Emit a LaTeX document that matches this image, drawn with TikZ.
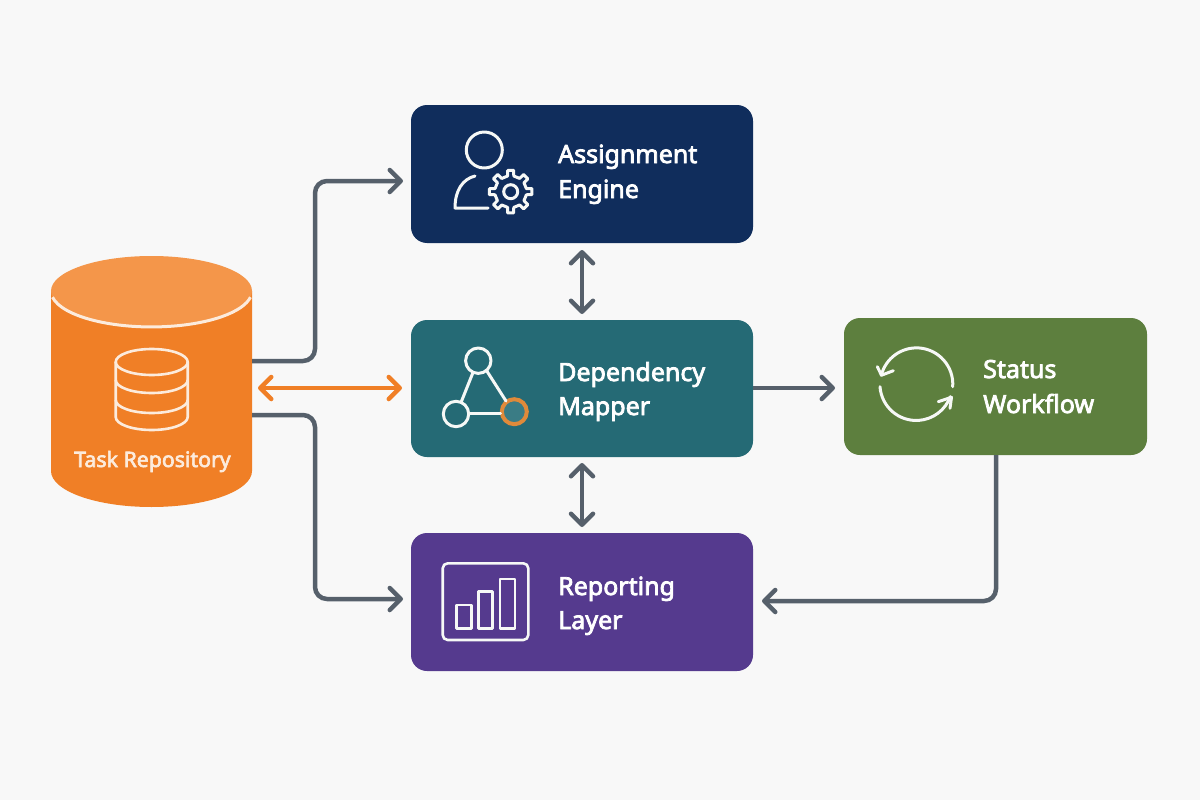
\documentclass[tikz,border=0pt]{standalone}
\usepackage{fontspec}
\setmainfont{Noto Sans}[FakeBold=3]
\usetikzlibrary{arrows.meta,calc}
\definecolor{bgc}{HTML}{F8F8F8}
\definecolor{navy}{HTML}{102D5C}
\definecolor{tealb}{HTML}{256A75}
\definecolor{tealc}{HTML}{3A7C85}
\definecolor{purp}{HTML}{553A8E}
\definecolor{grn}{HTML}{5D7F3E}
\definecolor{orng}{HTML}{F07F26}
\definecolor{orntop}{HTML}{F4964A}
\definecolor{ornring}{HTML}{E08A3A}
\definecolor{linec}{HTML}{56606B}
\definecolor{cream}{HTML}{FCEBDC}
\definecolor{iconw}{HTML}{F6F8F6}
\tikzset{
  box/.style={rounded corners=16pt,inner sep=0pt,outer sep=0pt,minimum width=342pt,minimum height=138pt},
  lab/.style={anchor=base west,inner sep=0pt,text=white,font=\fontsize{25}{30}\selectfont},
  conn/.style={draw=linec,line width=4.5pt,rounded corners=12pt,-{Straight Barb[length=11pt,width=22pt,round]}},
  conn2/.style={line width=4.5pt,{Straight Barb[length=11pt,width=22pt,round]}-{Straight Barb[length=11pt,width=22pt,round]}},
  icon/.style={draw=iconw,line width=3pt,line join=round,line cap=round},
}
\begin{document}
\begin{tikzpicture}[x=1pt,y=-1pt]
\useasboundingbox (0,0) rectangle (1200,800);
\fill[bgc] (0,0) rectangle (1200,800);
% cylinder
\node[inner sep=0pt,outer sep=0pt,minimum width=201pt,minimum height=251pt] (repo) at (151.5,381.5) {};
\fill[orng] (51,291) -- (51,471) arc[start angle=180,end angle=0,x radius=100.5,y radius=36] -- (252,291) -- cycle;
\fill[orntop] (151.5,291) ellipse[x radius=100.5,y radius=35];
\draw[draw=cream,line width=3pt] (52.5,297.2) arc[start angle=170,end angle=10,x radius=100.5,y radius=36];
% db icon
\begin{scope}[line width=2.6pt]
\draw[cream] (151.7,362) ellipse[x radius=36,y radius=13];
\draw[cream] (115.7,362) -- (115.7,417) arc[start angle=180,end angle=0,x radius=36,y radius=13] -- (187.7,362);
\draw[cream] (115.7,380) arc[start angle=180,end angle=0,x radius=36,y radius=13];
\draw[cream] (115.7,400) arc[start angle=180,end angle=0,x radius=36,y radius=13];
\end{scope}
\node[inner sep=0pt,text=cream,font=\fontsize{21.3}{25}\selectfont,anchor=base] (repolab) at (152.5,467) {Task Repository};
% boxes
\node[box,fill=navy] (assign) at (582,174) {};
\node[box,fill=tealb,minimum height=137pt] (dep) at (582,388.5) {};
\node[box,fill=purp] (report) at (582,602) {};
\node[box,fill=grn,minimum width=303pt,minimum height=137pt] (status) at (995.5,386.5) {};
% labels
\node[lab] (t1) at (558,163) {Assignment};
\node[lab] (t2) at (558,198) {Engine};
\node[lab] (t3) at (558,381) {Dependency};
\node[lab] (t4) at (558,415) {Mapper};
\node[lab] (t5) at (558,595) {Reporting};
\node[lab] (t6) at (558,629) {Layer};
\node[lab] (t7) at (983,378) {Status};
\node[lab] (t8) at (983,413) {Workflow};
% assignment icon
\draw[icon] (484.3,150) circle[radius=18];
\draw[icon] (475,176) .. controls (463,179) and (455,190) .. (455,208) -- (488,208);
\draw[icon] (510.7,191.7) circle[radius=7];
\begin{scope}[shift={(510.7,191.7)}]
\draw[icon] (-11:16) \foreach \a in {0,45,...,315}{
  -- (\a-11:16) -- (\a-8:21.5) -- (\a+8:21.5) -- (\a+11:16)
} -- cycle;
\end{scope}
% dependency icon
\draw[icon] (478.3,360.7) circle[radius=12.7];
\draw[icon] (456,414) circle[radius=12.7];
\fill[tealc] (514.3,411.7) circle[radius=12];
\draw[draw=ornring,line width=4pt] (514.3,411.7) circle[radius=12.5];
\draw[icon] (473,372.5) -- (461,402.5);
\draw[icon] (486.5,370.5) -- (506,401);
\draw[icon] (469.5,413) -- (500.5,413);
% status icon
\draw[icon] (952.7,386.7) arc[start angle=4,end angle=-166,radius=36.3];
\draw[icon] (877.3,366.7) -- (881.5,375.2) -- (893.3,370.7);
\draw[icon] (880,386.7) arc[start angle=176,end angle=20,radius=36.3];
\draw[icon] (938.3,401.7) -- (951.5,397.3) -- (950,408.3);
% chart icon
\draw[icon,line width=2.6pt,rounded corners=5pt] (442.7,563.3) rectangle (528.3,640);
\draw[icon,line width=2.6pt] (456.7,605) rectangle (471.7,628.3);
\draw[icon,line width=2.6pt] (478.3,591.7) rectangle (492.7,628.3);
\draw[icon,line width=2.6pt] (500,579) rectangle (515,628.3);
% connectors
\draw[conn,shorten >=8pt] (repo.east |- 0,361) -- (315,361) -- (315,181) -- (assign.west |- 0,181);
\draw[conn,shorten >=8pt] (repo.east |- 0,415) -- (315,415) -- (315,599) -- (report.west |- 0,599);
\draw[conn2,draw=orng,shorten <=6pt,shorten >=9pt] (repo.east |- 0,388) -- (dep.west |- 0,388);
\draw[conn2,draw=linec,shorten <=7pt,shorten >=6pt] (assign.south) -- (dep.north);
\draw[conn2,draw=linec,shorten <=6pt,shorten >=6pt] (dep.south) -- (report.north);
\draw[conn,shorten >=9pt] (dep.east |- 0,388) -- (status.west |- 0,388);
\draw[conn,shorten >=9pt] (status.south -| 996,0) -- (996,601) -- (report.east |- 0,601);
\end{tikzpicture}
\end{document}
